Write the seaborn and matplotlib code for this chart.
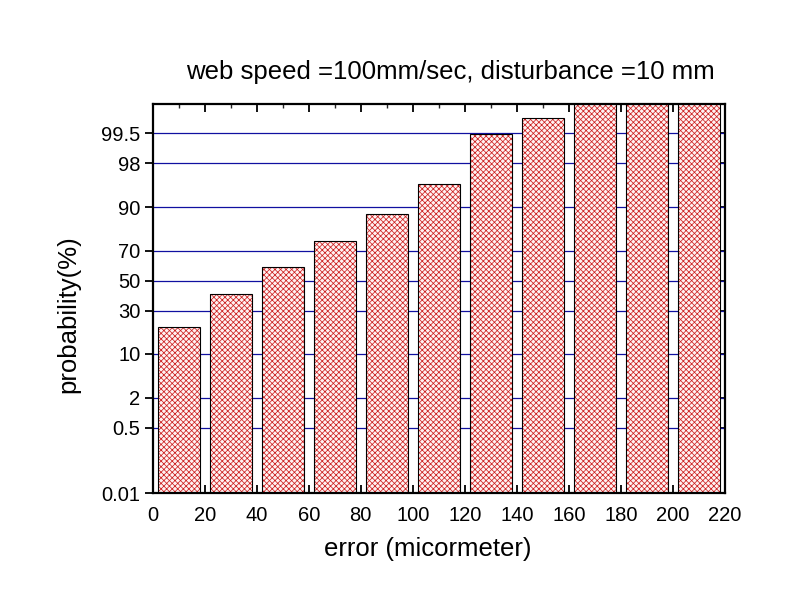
import numpy as np
import pandas as pd
import matplotlib
matplotlib.use("Agg")
import matplotlib.pyplot as plt
import seaborn as sns
from statistics import NormalDist
from matplotlib.ticker import FixedLocator, MultipleLocator

error_um = [10, 30, 50, 70, 90, 110, 130, 150, 170, 190, 210]
probability = [21.0, 40.8, 59.2, 75.7, 87.9, 95.4, 99.49, 99.78, 100.0, 100.0, 100.0]
y_ticks = [0.01, 0.5, 2, 10, 30, 50, 70, 90, 98, 99.5]
y_tick_labels = ["0.01", "0.5", "2", "10", "30", "50", "70", "90", "98", "99.5"]
x_ticks = list(range(0, 221, 20))
title = "web speed =100mm/sec, disturbance =10 mm"

sns.set_theme(style="white")
plt.rcParams['font.family'] = ['Liberation Sans', 'DejaVu Sans']
plt.rcParams['hatch.linewidth'] = 0.55

_nd = NormalDist()
_ppf = np.vectorize(_nd.inv_cdf, otypes=[float])
_cdf = np.vectorize(_nd.cdf, otypes=[float])

def fwd(p):
    p = np.clip(np.asarray(p, dtype=float) / 100.0, 1e-7, 1 - 1e-7)
    return _ppf(p)

def inv(z):
    z = np.asarray(z, dtype=float)
    return _cdf(z) * 100.0

df = pd.DataFrame({"error": error_um, "prob": probability})

fig = plt.figure(figsize=(8, 6), dpi=100)
ax = fig.add_axes([0.191, 0.178, 0.715, 0.649])
ax.set_yscale("function", functions=(fwd, inv))

sns.barplot(data=df, x="error", y="prob", native_scale=True, ax=ax,
            color="#fff2f2", edgecolor="#cc2222", hatch="xxxxxx", linewidth=0.0,
            saturation=1, zorder=2)
sns.barplot(data=df, x="error", y="prob", native_scale=True, ax=ax,
            fill=False, edgecolor="black", linewidth=0.8, zorder=3)
for p in ax.patches:
    p.set_clip_on(True)

ax.set_ylim(0.01, 99.9)
ax.set_xlim(0, 220)
ax.yaxis.set_major_locator(FixedLocator(y_ticks))
ax.set_yticklabels(y_tick_labels)
ax.yaxis.set_minor_locator(FixedLocator([]))
ax.xaxis.set_major_locator(FixedLocator(x_ticks))
ax.xaxis.set_minor_locator(MultipleLocator(10))
ax.set_xticklabels([str(v) for v in x_ticks])

for yv in y_ticks[1:]:
    ax.axhline(yv, color="#1010a0", lw=0.9, zorder=1)

for s in ax.spines.values():
    s.set_color("black")
    s.set_linewidth(1.6)
    s.set_zorder(5)

ax.tick_params(axis="x", which="major", direction="in", length=6, width=1.3,
               top=True, bottom=True, labelsize=14.5, colors="black", pad=9)
ax.tick_params(axis="x", which="minor", direction="in", length=3, width=1.0,
               top=True, bottom=True)
ax.tick_params(axis="y", which="major", direction="out", length=6, width=1.3,
               left=True, right=True, labelsize=14.5, colors="black", pad=3)
for t in ax.yaxis.get_major_ticks():
    t.tick2line.set_marker(0)
    t.tick2line.set_markersize(6)

ax.set_xlabel("error (micormeter)", fontsize=18.5, labelpad=9, color="black")
ax.set_ylabel("probability(%)", fontsize=18.5, labelpad=15, color="black")
ax.xaxis.label.set_x(0.481)
ax.yaxis.label.set_y(0.46)
fig.text(0.563, 0.88, title, fontsize=18.5, ha="center", va="center", color="black")

fig.savefig("out.png", dpi=100, facecolor="white")
